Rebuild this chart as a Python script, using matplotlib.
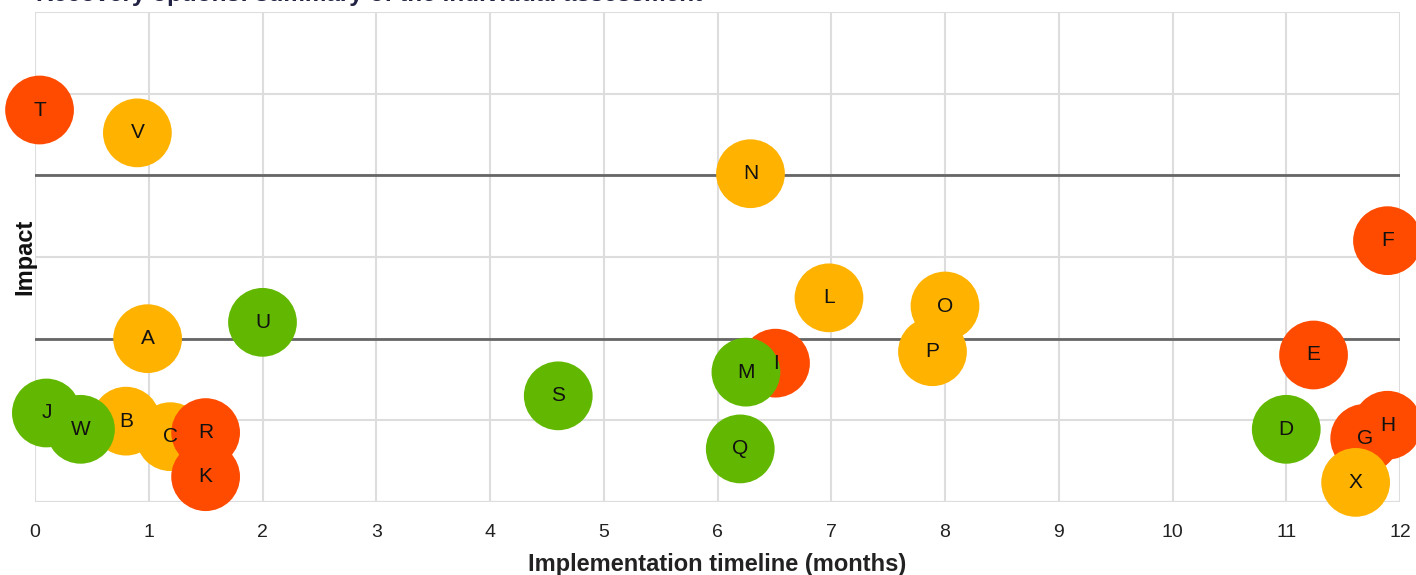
import matplotlib
matplotlib.use("Agg")
import matplotlib.pyplot as plt

labels = ["A", "B", "C", "D", "E", "F", "G", "H", "I", "J", "K", "L",
          "M", "N", "O", "P", "Q", "R", "S", "T", "U", "V", "W", "X"]
timeline = [0.99, 0.80, 1.19, 11.00, 11.24, 11.89, 11.69, 11.89, 6.51, 0.10, 1.50, 6.98,
            6.25, 6.29, 8.00, 7.89, 6.20, 1.50, 4.60, 0.04, 2.00, 0.90, 0.40, 11.61]
impact = [2.00, 0.99, 0.80, 0.89, 1.80, 3.20, 0.78, 0.94, 1.70, 1.09, 0.31, 2.50,
          1.59, 4.02, 2.40, 1.84, 0.65, 0.85, 1.30, 4.80, 2.20, 4.52, 0.89, 0.24]
rating = ["amber", "amber", "amber", "green", "red", "red", "red", "red", "red", "green", "red", "amber",
          "green", "amber", "amber", "amber", "green", "red", "green", "red", "green", "amber", "green", "amber"]
thresholds = [2, 4]
x_ticks = list(range(0, 13))

palette = {"red": "#FF4B00", "amber": "#FFB300", "green": "#62B800"}

W, H = 1416, 575
fig = plt.figure(figsize=(W / 100, H / 100), dpi=100)
ax = fig.add_axes([35 / W, (575 - 502) / H, (1400 - 35) / W, (502 - 12) / H])

ax.set_xlim(0, 12)
ax.set_ylim(0, 6)
ax.set_xticks(x_ticks)
ax.set_yticks(range(0, 7))
ax.set_yticklabels([])
ax.tick_params(axis="both", length=0)
ax.tick_params(axis="x", labelsize=14, labelcolor="#222222", pad=15.5)
for lbl in ax.get_xticklabels():
    lbl.set_fontfamily("Liberation Sans")
ax.grid(True, color="#DDDDDD", linewidth=1.5, zorder=0)
ax.set_axisbelow(True)
for s in ax.spines.values():
    s.set_visible(False)
ax.axhline(0, color="#DDDDDD", linewidth=1.5, zorder=0.5)

for t in thresholds:
    ax.plot([0, 12], [t, t], color="#666666", linewidth=2, zorder=1)

colors = [palette[r] for r in rating]
for xi, yi, ci in zip(timeline, impact, colors):
    ax.scatter([xi], [yi], s=2450, color=ci, edgecolors="none", zorder=2, clip_on=False)
for xi, yi, lb in zip(timeline, impact, labels):
    ax.text(xi, yi, lb, ha="center", va="center", fontsize=15, family="Liberation Sans",
            color="#111111", zorder=3, clip_on=False)

ax.set_xlabel("Implementation timeline (months)", fontsize=17, fontweight="bold",
              family="Liberation Sans", color="#222222", labelpad=9)
fig.text(25 / W, 1 - 257 / H, "Impact", rotation=90, ha="center", va="center",
         fontsize=17, fontweight="bold", family="Liberation Sans", color="#111111")
fig.text(36 / W, 1 - 0.5 / H, "Recovery options: summary of the individual assessment",
         ha="left", va="baseline", fontsize=17.5, fontweight="bold",
         family="Liberation Sans", color="#222244")

fig.savefig("out.png", dpi=100)
